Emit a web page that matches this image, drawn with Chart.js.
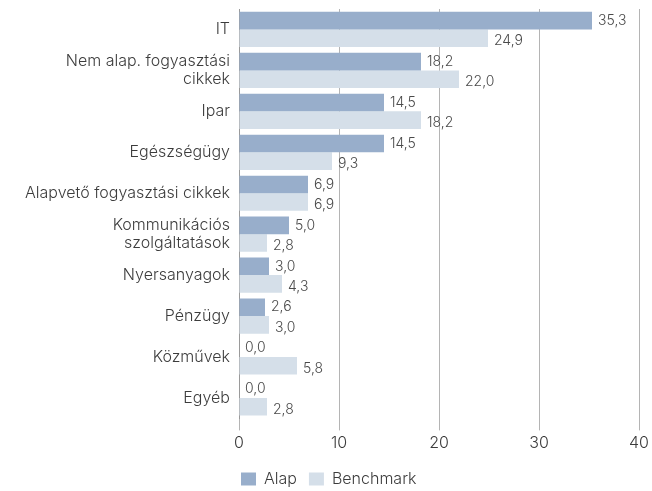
<!DOCTYPE html>
<html>
<head>
<meta charset="utf-8">
<script src="https://cdn.jsdelivr.net/npm/chart.js@4.4.1/dist/chart.umd.min.js"></script>
<style>
  html, body { margin: 0; padding: 0; background: #fff; }
  #wrap { position: relative; width: 652px; height: 491px; }
</style>
</head>
<body>
<div id="wrap"><canvas id="chart"></canvas></div>
<script>
// Sector weights (%)
const categories = [
    'IT',
    ['Nem alap. fogyasztási', 'cikkek'],
    'Ipar',
    'Egészségügy',
    'Alapvető fogyasztási cikkek',
    ['Kommunikációs', 'szolgáltatások'],
    'Nyersanyagok',
    'Pénzügy',
    'Közművek',
    'Egyéb'
];
const alapValues = [35.3, 18.2, 14.5, 14.5, 6.9, 5.0, 3.0, 2.6, 0.0, 0.0];
const benchmarkValues = [24.9, 22.0, 18.2, 9.3, 6.9, 2.8, 4.3, 3.0, 5.8, 2.8];
const xTicks = [0, 10, 20, 30, 40];

const FONT = "Inter, 'Open Sans', sans-serif";
const TEXT = '#3c3c3c';

// value labels at the end of each bar, hungarian decimal comma
const valueLabels = {
    id: 'valueLabels',
    afterDatasetsDraw(chart) {
        const ctx = chart.ctx;
        ctx.save();
        ctx.font = '300 14px ' + FONT;
        ctx.fillStyle = '#4a4a4a';
        ctx.textAlign = 'left';
        ctx.textBaseline = 'middle';
        chart.data.datasets.forEach((ds, i) => {
            const dy = i === 0 ? 0 : 3;
            chart.getDatasetMeta(i).data.forEach((bar, j) => {
                const txt = ds.data[j].toFixed(1).replace('.', ',');
                ctx.fillText(txt, bar.x + 6, bar.y + dy);
            });
        });
        ctx.restore();
    }
};

// line the legend up with the start of the plot, a bit lower
const legendShift = {
    id: 'legendShift',
    afterLayout(chart) {
        const lg = chart.legend;
        if (!lg) return;
        const pad = lg.options.labels.padding;
        const w = lg.width;
        lg.left = chart.chartArea.left + 2 - pad;
        lg.right = lg.left + w;
        lg.top += 3;
        lg.bottom += 3;
    }
};

new Chart(document.getElementById('chart'), {
    type: 'bar',
    data: {
        labels: categories,
        datasets: [
            {
                label: 'Alap',
                data: alapValues,
                backgroundColor: '#98aecb',
                categoryPercentage: 0.86,
                barPercentage: 1.0
            },
            {
                label: 'Benchmark',
                data: benchmarkValues,
                backgroundColor: '#d5dfe9',
                categoryPercentage: 0.86,
                barPercentage: 1.0
            }
        ]
    },
    options: {
        indexAxis: 'y',
        responsive: true,
        maintainAspectRatio: false,
        animation: false,
        layout: { padding: { top: 9, right: 13, left: 0, bottom: -3 } },
        plugins: {
            legend: {
                position: 'bottom',
                align: 'start',
                labels: {
                    boxWidth: 15,
                    boxHeight: 13,
                    padding: 12,
                    color: TEXT,
                    font: { family: FONT, size: 16, weight: 300 }
                }
            },
            tooltip: { enabled: false }
        },
        scales: {
            x: {
                min: 0,
                max: 40,
                afterBuildTicks(scale) {
                    scale.ticks = xTicks.map(v => ({ value: v }));
                },
                afterFit(scale) {
                    scale.paddingLeft = 0;
                    scale.paddingRight = 0;
                },
                grid: { color: '#b4b4b4', drawTicks: true, tickLength: 12 },
                border: { display: false },
                ticks: {
                    padding: 4,
                    color: TEXT,
                    font: { family: FONT, size: 16, weight: 300, lineHeight: 1.1 }
                }
            },
            y: {
                grid: { display: false, drawTicks: false },
                border: { color: '#9a9a9a' },
                afterFit(scale) {
                    scale.width = 239;
                    scale.paddingTop = 0;
                    scale.paddingBottom = 0;
                },
                ticks: {
                    padding: 9,
                    color: TEXT,
                    font: { family: FONT, size: 16, weight: 300, lineHeight: 1.125 }
                }
            }
        }
    },
    plugins: [valueLabels, legendShift]
});
</script>
</body>
</html>
